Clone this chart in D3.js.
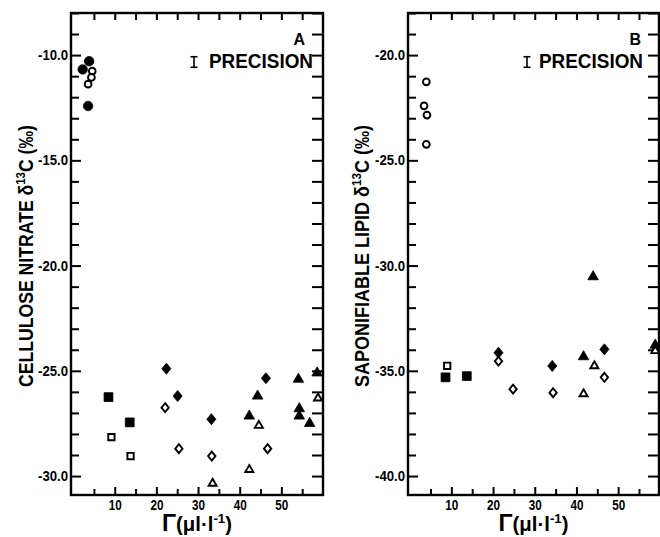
<!DOCTYPE html>
<html>
<head>
<meta charset="utf-8">
<title>d13C vs Gamma</title>
<style>
  body { margin: 0; background: #fff; }
  svg { display: block; font-family: "Liberation Sans", Arial, sans-serif; font-weight: bold; }
  .tick text { font-size: 14px; fill: #000; }
  .tick line { stroke: #000; stroke-width: 2; }
</style>
</head>
<body>
<script src="https://cdn.jsdelivr.net/npm/d3@7"></script>
<script>
// ---- panel A : cellulose nitrate d13C ----
var aFilledCircle   = [[2.3,-10.68],[3.85,-10.29],[3.6,-12.42]];
var aOpenCircle     = [[4.6,-10.76],[4.4,-11.06],[3.6,-11.38]];
var aFilledSquare   = [[8.5,-26.25],[13.6,-27.45]];
var aOpenSquare     = [[9.2,-28.15],[13.8,-29.05]];
var aFilledDiamond  = [[22.4,-24.9],[25.1,-26.2],[33.2,-27.3],[46.3,-25.35]];
var aOpenDiamond    = [[22.1,-26.75],[25.4,-28.7],[33.3,-29.05],[46.7,-28.7]];
var aFilledTriangle = [[42.3,-27.15],[44.3,-26.2],[54.1,-25.4],[54.3,-26.8],[54.3,-27.15],[56.8,-27.5],[58.6,-25.1]];
var aOpenTriangle   = [[33.5,-30.35],[42.3,-29.7],[44.6,-27.6],[58.8,-26.3]];

// ---- panel B : saponifiable lipid d13C ----
var bOpenCircle     = [[4.0,-21.27],[3.45,-22.41],[4.15,-22.85],[4.0,-24.24]];
var bFilledSquare   = [[8.6,-35.31],[13.7,-35.25]];
var bOpenSquare     = [[9.0,-34.76]];
var bFilledDiamond  = [[21.3,-34.14],[34.2,-34.77],[46.7,-33.98]];
var bOpenDiamond    = [[21.3,-34.54],[24.8,-35.87],[34.4,-36.04],[46.7,-35.31]];
var bFilledTriangle = [[44.0,-30.53],[41.7,-34.33],[58.9,-33.78]];
var bOpenTriangle   = [[41.7,-36.1],[44.3,-34.77],[58.9,-34.05]];

// ticks
var xMajor = [10,20,30,40,50];
var xMinor = [5,15,25,35,45,55];
var aYMajor = [-10,-15,-20,-25,-30];
var bYMajor = [-20,-25,-30,-35,-40];
var precision = 0.25;   // +/- per mil

var W = 660, H = 537;
var top0 = 13, bot0 = 495;

var svg = d3.select("body").append("svg")
  .attr("width", W).attr("height", H);

// squeeze text to the narrow lettering of the figure
function fit(sel, len) {
  sel.attr("textLength", len).attr("lengthAdjust", "spacingAndGlyphs");
}

// taller, rounder diamond than d3.symbolDiamond
var diamondType = {
  draw: function(ctx, size) {
    var h = Math.sqrt(size) * 0.62, w = h * 0.82;
    ctx.moveTo(0, -h); ctx.lineTo(w, 0); ctx.lineTo(0, h); ctx.lineTo(-w, 0); ctx.closePath();
  }
};

var styles = {
  filledCircle:   {type: d3.symbolCircle,   size: 70, fill: true},
  openCircle:     {type: d3.symbolCircle,   size: 36, fill: false},
  filledSquare:   {type: d3.symbolSquare,   size: 78, fill: true},
  openSquare:     {type: d3.symbolSquare,   size: 40, fill: false},
  filledDiamond:  {type: diamondType,       size: 80, fill: true},
  openDiamond:    {type: diamondType,       size: 52, fill: false},
  filledTriangle: {type: d3.symbolTriangle, size: 48, fill: true},
  openTriangle:   {type: d3.symbolTriangle, size: 28, fill: false}
};

var panels = [
  {
    letter: "A", xDom: [-0.5, 60], xRange: [71, 323], yDom: [-30.9, -8], yMajor: aYMajor,
    title: "CELLULOSE NITRATE ", titleX: 26, precRight: 10, barOff: 129,
    series: {filledCircle: aFilledCircle, openCircle: aOpenCircle, filledSquare: aFilledSquare,
             openSquare: aOpenSquare, filledDiamond: aFilledDiamond, openDiamond: aOpenDiamond,
             filledTriangle: aFilledTriangle, openTriangle: aOpenTriangle}
  },
  {
    letter: "B", xDom: [-0.4, 59.8], xRange: [408, 659], yDom: [-40.9, -18], yMajor: bYMajor,
    title: "SAPONIFIABLE LIPID ", titleX: 362, precRight: 16, barOff: 132,
    series: {openCircle: bOpenCircle, filledSquare: bFilledSquare, openSquare: bOpenSquare,
             filledDiamond: bFilledDiamond, openDiamond: bOpenDiamond,
             filledTriangle: bFilledTriangle, openTriangle: bOpenTriangle}
  }
];

panels.forEach(function(p) {
  var x = d3.scaleLinear().domain(p.xDom).range(p.xRange);
  var y = d3.scaleLinear().domain(p.yDom).range([bot0, top0]);
  var g = svg.append("g");
  var left = p.xRange[0], right = p.xRange[1];

  var yMinor = d3.range(Math.ceil(p.yDom[0]), Math.floor(p.yDom[1]) + 1)
    .filter(function(v){ return p.yMajor.indexOf(v) < 0; });

  function clean(sel) { sel.select(".domain").remove(); }

  // bottom
  g.append("g").attr("transform", "translate(0," + bot0 + ")")
    .call(d3.axisBottom(x).tickValues(xMinor).tickSize(-6).tickFormat("")).call(clean);
  g.append("g").attr("transform", "translate(0," + bot0 + ")")
    .call(d3.axisBottom(x).tickValues(xMajor).tickSize(-8).tickPadding(5)).call(clean)
    .selectAll(".tick text").call(fit, 13);
  // top
  g.append("g").attr("transform", "translate(0," + top0 + ")")
    .call(d3.axisTop(x).tickValues(xMajor.concat(xMinor)).tickSize(-7).tickFormat("")).call(clean);
  // left
  g.append("g").attr("transform", "translate(" + left + ",0)")
    .call(d3.axisLeft(y).tickValues(yMinor).tickSize(-8).tickFormat("")).call(clean);
  g.append("g").attr("transform", "translate(" + left + ",0)")
    .call(d3.axisLeft(y).tickValues(p.yMajor).tickSize(-10).tickPadding(3)
      .tickFormat(function(d){ return d.toFixed(1); })).call(clean)
    .selectAll(".tick text").call(fit, 30);
  // right
  g.append("g").attr("transform", "translate(" + right + ",0)")
    .call(d3.axisRight(y).tickValues(yMinor.concat(p.yMajor)).tickSize(-11).tickFormat("")).call(clean);

  // frame
  g.append("rect")
    .attr("x", left).attr("y", top0)
    .attr("width", right - left).attr("height", bot0 - top0)
    .attr("fill", "none").attr("stroke", "#000").attr("stroke-width", 2.4);

  // points
  Object.keys(p.series).forEach(function(k) {
    var st = styles[k];
    var sym = d3.symbol().type(st.type).size(st.size);
    g.selectAll(null).data(p.series[k]).enter().append("path")
      .attr("d", sym)
      .attr("transform", function(d){ return "translate(" + x(d[0]) + "," + y(d[1]) + ")"; })
      .attr("fill", st.fill ? "#000" : "#fff")
      .attr("stroke", "#000")
      .attr("stroke-width", st.fill ? 0.8 : 1.9);
  });

  // panel letter and precision key
  g.append("text").attr("x", right - 18).attr("y", 45)
    .attr("text-anchor", "end").attr("font-size", 16).text(p.letter);
  g.append("text").attr("x", right - p.precRight).attr("y", 68)
    .attr("text-anchor", "end").attr("font-size", 21).text("PRECISION")
    .call(fit, 104);
  var barLen = Math.abs(y(-20 + precision) - y(-20 - precision));
  var bx = right - p.barOff, by = 62;
  g.append("line").attr("x1", bx).attr("x2", bx).attr("y1", by - barLen / 2).attr("y2", by + barLen / 2)
    .attr("stroke", "#000").attr("stroke-width", 1.6);
  [-1, 1].forEach(function(s) {
    g.append("line").attr("x1", bx - 3.5).attr("x2", bx + 3.5)
      .attr("y1", by + s * barLen / 2).attr("y2", by + s * barLen / 2)
      .attr("stroke", "#000").attr("stroke-width", 1.6);
  });

  // y title
  var yt = g.append("text")
    .attr("transform", "translate(" + p.titleX + "," + ((top0 + bot0) / 2 + 2) + ") rotate(-90)")
    .attr("text-anchor", "middle").attr("dy", "0.35em").attr("font-size", 20);
  yt.append("tspan").text(p.title + "δ");
  yt.append("tspan").attr("font-size", 13).attr("dy", "-0.6em").text("13");
  yt.append("tspan").attr("dy", "0.4em").text("C (‰)");
  yt.call(fit, 262);

  // x title
  var xt = g.append("text")
    .attr("x", (left + right) / 2).attr("y", 531)
    .attr("text-anchor", "middle").attr("font-size", 20);
  xt.append("tspan").attr("font-size", 23).text("Γ");
  xt.append("tspan").text("(μl·l");
  xt.append("tspan").attr("font-size", 13).attr("dy", "-0.65em").text("-1");
  xt.append("tspan").attr("dy", "0.42em").text(")");
  xt.call(fit, 70);
});
</script>
</body>
</html>
